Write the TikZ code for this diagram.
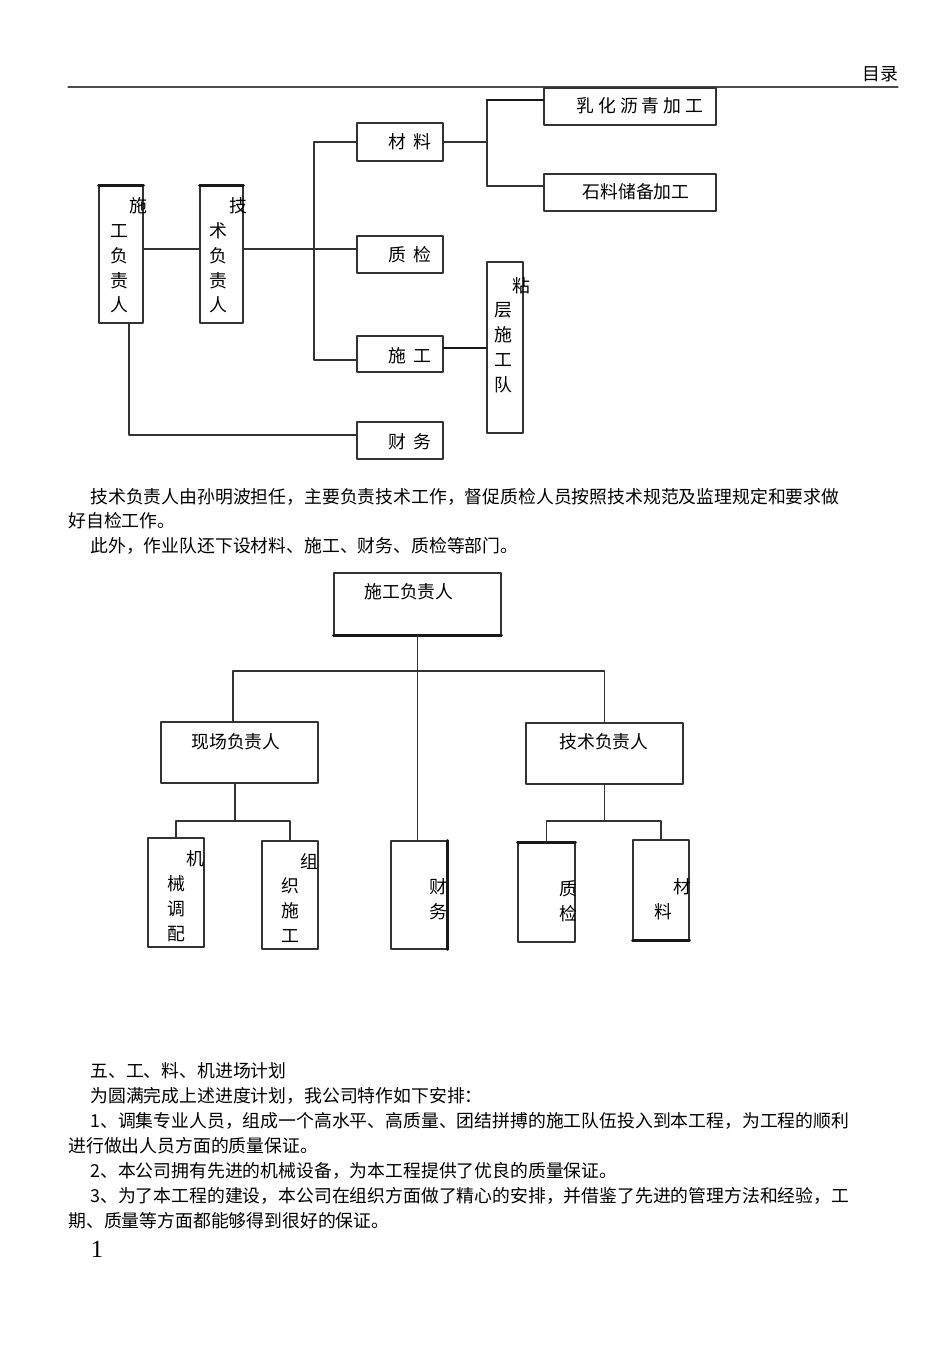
\documentclass[tikz,border=0pt]{standalone}
\usepackage{fontspec}
\setmainfont{Noto Sans CJK SC}
\newfontfamily\pagenumfont{Liberation Serif}
\usetikzlibrary{fit}

\tikzset{
  box/.style={draw=black!80, line width=.7pt, inner sep=0pt},
  link/.style={draw=black!80, line width=.7pt},
  heavy/.style={draw=black!90, line width=1.5pt},
  txt/.style={font=\fontsize{10.15}{12.5}\selectfont, inner sep=0pt},
  para/.style={txt, anchor=west},
}

\begin{document}
\begin{tikzpicture}[x=0.02cm, y=-0.02cm, line cap=round, line join=round]
  \useasboundingbox (0,0) rectangle (950,1345);

  % running head
  \node[txt] (mulu) at (880,74) {目录};
  \draw[line width=.7pt, black!70] (68,87) -- (898,87);

  %% first chart
  \node[box, fit={(99,186) (143,323)}] (sgfzr) {};
  \node[box, fit={(200,186) (243,323)}] (jsfzr) {};
  \node[box, fit={(357,123) (443,161)}] (cl) {};
  \node[box, fit={(357,236) (443,273)}] (zj) {};
  \node[box, fit={(357,336) (443,372)}] (sg) {};
  \node[box, fit={(357,422) (443,459)}] (cw) {};
  \node[box, fit={(544,88) (716,125)}] (rh) {};
  \node[box, fit={(544,174) (716,211)}] (sl) {};
  \node[box, fit={(487,262) (523,433)}] (nc) {};
  \draw[heavy] (sgfzr.north west) -- (sgfzr.north east);
  \draw[heavy] (jsfzr.north west) -- (jsfzr.north east);

  \node[txt] at (138,206) {施};
  \foreach \c [count=\i] in {工,负,责,人}
    \node[txt] at (119,206+\i*24.8) {\c};
  \node[txt] at (238,206) {技};
  \foreach \c [count=\i] in {术,负,责,人}
    \node[txt] at (218,206+\i*24.8) {\c};
  \node[txt] at (410,142) {材\hspace{.4em}料};
  \node[txt] at (410,255) {质\hspace{.4em}检};
  \node[txt] at (410,356) {施\hspace{.4em}工};
  \node[txt] at (410,442) {财\hspace{.4em}务};
  \node[txt] at (640,106) {乳\hspace{.22em}化\hspace{.22em}沥\hspace{.22em}青\hspace{.22em}加\hspace{.22em}工};
  \node[txt] at (636,192) {石料储备加工};
  \node[txt] at (521,286) {粘};
  \foreach \c [count=\i] in {层,施,工,队}
    \node[txt] at (503,286+\i*24.6) {\c};

  \coordinate (mid) at (0,249);
  \coordinate (trunk) at (314,0);
  \coordinate (fork) at (487,142);
  \draw[link] (sgfzr.east |- mid) -- (jsfzr.west |- mid);
  \draw[link] (jsfzr.east |- mid) -- (zj.west |- mid);
  \draw[link] (cl.west) -- (cl.west -| trunk) |- ([yshift=-.12cm]sg.west);
  \draw[link] (cl.east) -- (fork);
  \draw[link] ([yshift=.13cm]rh.west -| fork) -- ([yshift=.13cm]sl.west -| fork);
  \draw[heavy] ([yshift=.13cm]rh.west -| fork) -- ([yshift=.13cm]rh.west);
  \draw[link, line width=1.1pt] ([yshift=.13cm]sl.west -| fork) -- ([yshift=.13cm]sl.west);
  \draw[heavy] ([yshift=.12cm]sg.east) -- ([yshift=.12cm]sg.east -| nc.west);
  \draw[link, line width=1.2pt] ([xshift=.16cm]sgfzr.south) |- ([yshift=.11cm]cw.west);

  % text between the charts
  \node[para] at (90,497) {技术负责人由孙明波担任，主要负责技术工作，督促质检人员按照技术规范及监理规定和要求做};
  \node[para] at (68,521) {好自检工作。};
  \node[para] at (90,546) {此外，作业队还下设材料、施工、财务、质检等部门。};

  %% second chart
  \node[box, fit={(334,573) (501,635)}] (chief) {};
  \node[box, fit={(161,722) (318,783)}] (xc) {};
  \node[box, fit={(526,723) (683,784)}] (js) {};
  \node[box, fit={(148,838) (204,947)}] (jx) {};
  \node[box, fit={(262,841) (318,949)}] (zz) {};
  \node[box, fit={(391,841) (447,949)}] (cw2) {};
  \node[box, fit={(518,843) (575,942)}] (zj2) {};
  \node[box, fit={(633,840) (689,940)}] (cl2) {};
  \draw[heavy] (chief.south west) -- (chief.south east);
  \draw[heavy] (cw2.north east) -- (cw2.south east);
  \draw[heavy] (zj2.north west) -- (zj2.north east);
  \draw[heavy] (cl2.south west) -- (cl2.south east);

  \node[txt] at (409,592) {施工负责人};
  \node[txt] at (236,742) {现场负责人};
  \node[txt] at (604,742) {技术负责人};
  \node[txt] at (195,859) {机};
  \foreach \c [count=\i] in {械,调,配}
    \node[txt] at (176,859+\i*25) {\c};
  \node[txt] at (309,862) {组};
  \foreach \c [count=\i] in {织,施,工}
    \node[txt] at (290,861+\i*25) {\c};
  \node[txt] at (438,887) {财};
  \node[txt] at (438,912) {务};
  \node[txt] at (568,889) {质};
  \node[txt] at (568,914) {检};
  \node[txt] at (682,887) {材};
  \node[txt] at (663,912) {料};

  \coordinate (bar) at (0,671);
  \coordinate (sub) at (0,821);
  \draw[link] (chief.south) -- (chief.south |- cw2.north);
  \draw[link] ([xshift=-.13cm]xc.north) |- (js.north |- bar) -- (js.north);
  \draw[link, line width=1.1pt] ([xshift=-.09cm]xc.south) -- ([xshift=-.09cm]xc.south |- sub);
  \draw[link] (jx.north) |- (zz.north |- sub) -- (zz.north);
  \draw[link] (js.south) -- (js.south |- sub);
  \draw[link] (zj2.north) |- (cl2.north |- sub) -- (cl2.north);

  % text below the charts
  \node[para] at (90,1071) {五、工、料、机进场计划};
  \node[para] at (90,1096) {为圆满完成上述进度计划，我公司特作如下安排：};
  \node[para] at (90,1121) {1、调集专业人员，组成一个高水平、高质量、团结拼搏的施工队伍投入到本工程，为工程的顺利};
  \node[para] at (68,1146) {进行做出人员方面的质量保证。};
  \node[para] at (90,1171) {2、本公司拥有先进的机械设备，为本工程提供了优良的质量保证。};
  \node[para] at (90,1196) {3、为了本工程的建设，本公司在组织方面做了精心的安排，并借鉴了先进的管理方法和经验，工};
  \node[para] at (68,1221) {期、质量等方面都能够得到很好的保证。};
  \node[txt, font=\pagenumfont\fontsize{14}{16}\selectfont] (pageno) at (97,1249) {1};
\end{tikzpicture}
\end{document}
